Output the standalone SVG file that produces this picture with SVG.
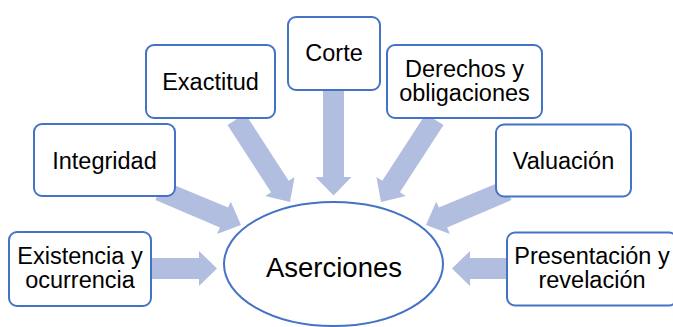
<svg xmlns="http://www.w3.org/2000/svg" width="673" height="327" viewBox="0 0 673 327">
<style>
.arrow{fill:#B1BEE0;stroke:none}
.box{fill:#FFFFFF;stroke:#4472C4;stroke-width:2}
.t{font-family:"Liberation Sans",Arial,sans-serif;font-size:23.5px;fill:#000000;text-anchor:middle}
.big{font-size:27.5px}
</style>
<rect width="673" height="327" fill="#FFFFFF"/>
<g id="connectors">
<polygon class="arrow" points="140,258 199,258 199,251 217,268.5 199,286 199,279 140,279"/>
<polygon class="arrow" points="520,258 470,258 470,251 452,268.5 470,286 470,279 520,279"/>
<polygon class="arrow" points="323,85 344,85 344,177 351.5,177 333.5,195.5 315.5,177 323,177"/>
<polygon class="arrow" points="163.7,180.7 228.1,207.4 230.8,201.7 241,225 217.1,233.9 219.9,227.4 155.5,200.1"/>
<polygon class="arrow" points="503.3,180.7 438.9,207.4 436.2,201.7 426,225 449.9,233.9 447.1,227.4 511.5,200.1"/>
<polygon class="arrow" points="245.2,113.7 288.7,180.8 294.6,177 290,202 265.2,196 271.1,192.2 227.5,125.1"/>
<polygon class="arrow" points="425.8,113.7 382.3,180.8 376.4,177 381,202 405.8,196 399.9,192.2 443.5,125.1"/>
</g>
<g id="aserciones">
<ellipse class="box" cx="333.5" cy="264" rx="109.5" ry="62"/>
<text class="t big" x="334" y="277">Aserciones</text>
</g>
<g id="exactitud">
<rect class="box" x="146" y="45" width="129" height="73" rx="8"/>
<text class="t" x="210.5" y="90">Exactitud</text>
</g>
<g id="corte">
<rect class="box" x="288" y="17" width="92" height="73" rx="8"/>
<text class="t" x="334" y="60.5">Corte</text>
</g>
<g id="derechos">
<rect class="box" x="387" y="45" width="155" height="73" rx="8"/>
<text class="t" x="464.5" y="77">Derechos y</text>
<text class="t" x="464.5" y="101">obligaciones</text>
</g>
<g id="integridad">
<rect class="box" x="34" y="124" width="141" height="72" rx="8"/>
<text class="t" x="104.5" y="168.5">Integridad</text>
</g>
<g id="valuacion">
<rect class="box" x="496" y="124.5" width="135" height="72" rx="8"/>
<text class="t" x="563.5" y="168.5">Valuación</text>
</g>
<g id="existencia">
<rect class="box" x="9" y="232" width="142" height="74" rx="8"/>
<text class="t" x="80" y="263.5">Existencia y</text>
<text class="t" x="80" y="288">ocurrencia</text>
</g>
<g id="presentacion">
<rect class="box" x="507" y="232.5" width="170" height="73" rx="8"/>
<text class="t" x="592" y="264">Presentación y</text>
<text class="t" x="592" y="288">revelación</text>
</g>
</svg>
